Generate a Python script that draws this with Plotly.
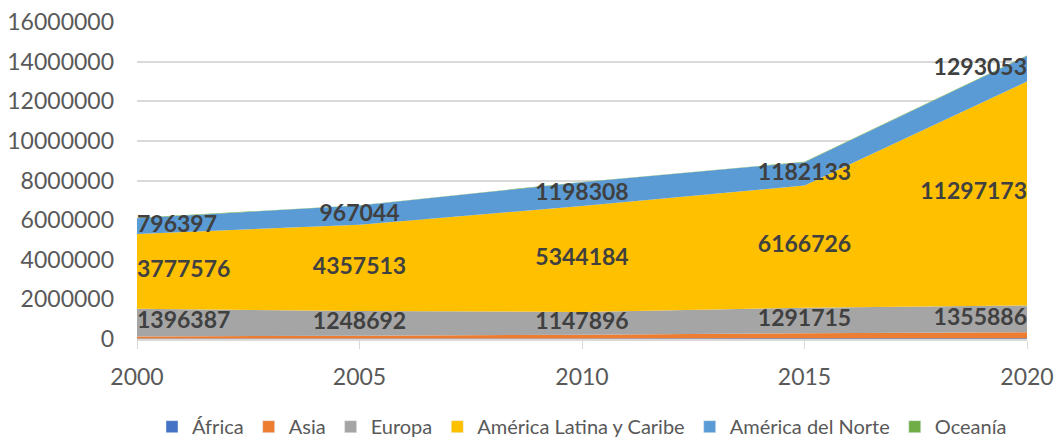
import plotly.graph_objects as go
import numpy as np

years = [2000, 2005, 2010, 2015, 2020]
africa = [20000, 25000, 30000, 35000, 40000]
asia = [110000, 140000, 190000, 250000, 300000]
europa = [1396387, 1248692, 1147896, 1291715, 1355886]
alc = [3777576, 4357513, 5344184, 6166726, 11297173]
norte = [796397, 967044, 1198308, 1182133, 1293053]
oceania = [15000, 18000, 20000, 22000, 25000]

series = [
    ("África", africa, "#4472C4"),
    ("Asia", asia, "#ED7D31"),
    ("Europa", europa, "#A5A5A5"),
    ("América Latina y Caribe", alc, "#FFC000"),
    ("América del Norte", norte, "#5B9BD5"),
    ("Oceanía", oceania, "#70AD47"),
]
labelled = {"Europa", "América Latina y Caribe", "América del Norte"}

FONT = "Lato"
fig = go.Figure()
for name, vals, col in series:
    fig.add_trace(go.Scatter(
        x=years, y=vals, name=name, stackgroup="one", mode="none",
        fillcolor=col, line=dict(width=0), hoverinfo="x+y+name",
        showlegend=False))

cum = np.zeros(len(years))
positions = ["middle right"] + ["middle center"] * (len(years) - 2) + ["middle left"]
for name, vals, col in series:
    v = np.array(vals, dtype=float)
    if name in labelled:
        fig.add_trace(go.Scatter(
            x=years, y=cum + v / 2, mode="text",
            text=[str(x) for x in vals], textposition=positions,
            textfont=dict(family=FONT, size=23, color="#404040", weight="bold"),
            showlegend=False, hoverinfo="skip", cliponaxis=False))
    cum += v

# legend-only square markers
for name, vals, col in series:
    fig.add_trace(go.Bar(x=[None], y=[None], name=name, marker_color=col,
                         showlegend=True, hoverinfo="skip"))

fig.update_layout(
    width=1057, height=442,
    margin=dict(l=137, r=30, t=22, b=103, autoexpand=False),
    paper_bgcolor="white", plot_bgcolor="white",
    font=dict(family=FONT, size=22, color="#595959"),
    legend=dict(orientation="h", x=0.5, xanchor="center", y=-0.215, yanchor="top",
                font=dict(size=20, color="#595959"),
                traceorder="normal", tracegroupgap=0, borderwidth=0),
)
fig.update_xaxes(range=[2000, 2020], tickvals=years, showgrid=False,
                 showline=True, linecolor="#d9d9d9", linewidth=1.5,
                 ticks="outside", tickcolor="#d9d9d9", ticklen=8,
                 ticklabelstandoff=9, automargin=False,
                 tickfont=dict(size=23, color="#595959"))
fig.update_yaxes(range=[0, 16000000], dtick=2000000, tickformat="d",
                 showgrid=True, gridcolor="#d9d9d9", gridwidth=1.5,
                 zeroline=False, showline=False, automargin=False,
                 ticklabelstandoff=22,
                 tickfont=dict(size=23, color="#595959"))

fig.write_html("out.html", config={"displayModeBar": False},
               post_script="document.body.style.margin='0';document.body.style.overflow='hidden';")
